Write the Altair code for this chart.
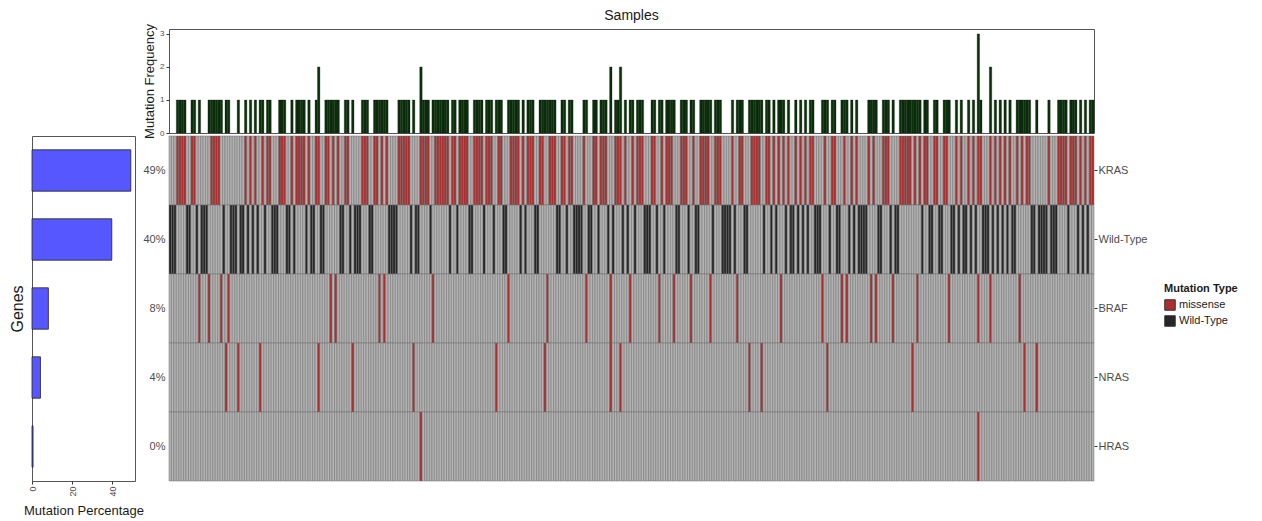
import altair as alt
import pandas as pd

# ---------------- data ----------------
N_SAMPLES = 380
GENES = ["KRAS", "Wild-Type", "BRAF", "NRAS", "HRAS"]
PCT_LABELS = ["49%", "40%", "8%", "4%", "0%"]

KRAS_SAMPLES = [
    3, 4, 5, 6, 9, 10, 17, 18, 19, 20, 31, 33, 35, 38, 40, 41, 45, 46, 47, 50,
    52, 53, 54, 55, 57, 60, 61, 64, 65, 67, 69, 72, 73, 79, 80, 81, 84, 85, 87, 89,
    94, 95, 96, 97, 98, 103, 104, 105, 106,
    109, 110, 111, 112, 113, 114, 116, 117, 119, 120, 121, 122, 125, 126, 127, 128,
    130, 131, 132, 135, 136, 140, 141, 142, 143, 145, 147, 148, 149, 152, 153, 156,
    157, 158, 161, 162, 164, 165, 170, 174, 175, 177, 178, 179, 183, 184, 185, 187,
    190, 192, 193,
    194, 198, 199, 202, 204, 205, 206, 210, 211, 212, 215, 218, 219, 220, 221, 224,
    225, 226, 231, 234, 235, 239, 240, 241, 242, 245, 246, 248, 250, 252, 254, 257,
    259, 261, 263, 264, 269, 272, 273, 277,
    280, 282, 287, 289, 293, 294, 295, 300, 301, 302, 303, 304, 306, 308, 310, 311,
    314, 315, 318, 319, 323, 325, 328, 330, 332, 333, 337, 339, 341, 343, 345, 348,
    350, 352, 353, 361, 365, 366, 367, 368, 370, 371, 372, 374, 376, 378, 379,
]
BRAF_SAMPLES = [12, 16, 21, 24, 66, 68, 86, 88, 108, 139, 155, 171, 181, 189, 201,
                207, 214, 222, 233, 251, 268, 276, 278, 288, 290, 297, 307, 320,
                332, 337, 349]
NRAS_SAMPLES = [23, 28, 37, 61, 75, 100, 134, 154, 181, 185, 238, 243, 270, 305,
                351, 356]
HRAS_SAMPLES = [103, 332]

MUTATION_TYPES = ["missense", "Wild-Type"]
FREQ_TICKS = [0, 1, 2, 3]
PCT_TICKS = [0, 20, 40]

# ---------------- styles ----------------
RED = "#ad2e2e"
DARK = "#262626"
GRAY = "#b3b3b3"
TILE_STROKE = "#6f6f6f"
GREEN = "#0c2f0c"
BLUE = "#5757ff"
FONT = "Liberation Sans"

# ---------------- derived tables ----------------
samples = list(range(N_SAMPLES))
mutated = {
    "KRAS": set(KRAS_SAMPLES),
    "BRAF": set(BRAF_SAMPLES),
    "NRAS": set(NRAS_SAMPLES),
    "HRAS": set(HRAS_SAMPLES),
}
freq = [sum(s in mutated[g] for g in mutated) for s in samples]
mutated["Wild-Type"] = {s for s in samples if freq[s] == 0}

rows = []
for g in GENES:
    for s in samples:
        if s in mutated[g]:
            status = "Wild-Type" if g == "Wild-Type" else "missense"
        else:
            status = "none"
        rows.append({"sample": s, "gene": g, "status": status})
tile_df = pd.DataFrame(rows)

freq_df = pd.DataFrame({"sample": samples, "freq": freq})
freq_df = freq_df[freq_df["freq"] > 0]

pct_df = pd.DataFrame({
    "gene": GENES,
    "pct": [100.0 * len(mutated[g]) / N_SAMPLES for g in GENES],
})
label_expr = "".join(
    f"datum.value === '{g}' ? '{lab}' : " for g, lab in zip(GENES, PCT_LABELS)) + "''"

x_scale = alt.Scale(domain=samples, paddingInner=0, paddingOuter=0)
gene_scale = alt.Scale(domain=GENES, paddingInner=0, paddingOuter=0)

PLOT_W = 925

# ---------------- panels ----------------
spacer = alt.Chart(pd.DataFrame({"v": [0]})).mark_point(opacity=0).encode(
    x=alt.X("v:Q", axis=None),
    y=alt.Y("v:Q", axis=None),
).properties(width=103, height=104, view=alt.ViewBackground(strokeOpacity=0))

top = alt.Chart(freq_df).mark_bar(
    color=GREEN, stroke="#081d08", strokeWidth=0.3
).encode(
    x=alt.X("sample:O", scale=x_scale, axis=None),
    y=alt.Y(
        "freq:Q",
        scale=alt.Scale(domain=[0, 3.15], nice=False),
        axis=alt.Axis(values=FREQ_TICKS, title="Mutation Frequency", grid=False,
                      domain=False, tickSize=3, tickColor="#333",
                      labelFontSize=8, labelColor="#4d4d4d", labelPadding=2,
                      titleFontSize=13, titleFontWeight="normal",
                      titleColor="#1a1a1a", titlePadding=3),
    ),
).properties(
    width=PLOT_W, height=104,
    title=alt.TitleParams("Samples", fontSize=14, fontWeight="normal",
                          color="#1a1a1a", offset=1),
)

left = alt.Chart(pct_df).mark_bar(
    color=BLUE, stroke="#222", strokeWidth=0.8
).encode(
    x=alt.X(
        "pct:Q",
        scale=alt.Scale(domain=[0, 51.3], nice=False),
        axis=alt.Axis(values=PCT_TICKS, labelAngle=270, title="Mutation Percentage",
                      grid=False, domain=False, tickSize=3, tickColor="#333",
                      labelFontSize=9, labelColor="#4d4d4d", labelPadding=2,
                      titleFontSize=13, titleFontWeight="normal",
                      titleColor="#1a1a1a", titlePadding=8),
    ),
    y=alt.Y(
        "gene:N",
        sort=GENES,
        scale=alt.Scale(domain=GENES, paddingInner=0.4, paddingOuter=0.2),
        axis=alt.Axis(title="Genes", labels=False, ticks=False, domain=False,
                      titleFontSize=16, titleFontWeight="normal",
                      titleColor="#1a1a1a", titlePadding=7),
    ),
).properties(width=103, height=345)

heat_tiles = alt.Chart(tile_df).mark_rect(
    stroke=TILE_STROKE, strokeWidth=0.5
).encode(
    x=alt.X("sample:O", scale=x_scale, axis=None),
    y=alt.Y("gene:N", sort=GENES, scale=gene_scale,
            axis=alt.Axis(title=None, labelExpr=label_expr, ticks=False,
                          domain=False, labelFontSize=11, labelColor="#4d4d4d",
                          labelPadding=4)),
    color=alt.Color(
        "status:N",
        scale=alt.Scale(domain=MUTATION_TYPES + ["none"], range=[RED, DARK, GRAY]),
        legend=alt.Legend(values=MUTATION_TYPES, title="Mutation Type",
                          orient="none", legendX=1132, legendY=254,
                          titleFontSize=11, titleFontWeight="bold",
                          titleColor="#1a1a1a", labelFontSize=11,
                          labelColor="#1a1a1a", symbolType="square",
                          symbolSize=110, symbolStrokeColor="#333",
                          symbolStrokeWidth=1, rowPadding=0, labelOffset=3),
    ),
)

heat_labels = alt.Chart(pct_df).mark_rect(opacity=0).encode(
    y=alt.Y("gene:N", sort=GENES, scale=gene_scale,
            axis=alt.Axis(orient="right", title=None, ticks=True, tickSize=3,
                          tickColor="#333", domain=False, labelFontSize=11,
                          labelColor="#4d4d4d", labelPadding=1)),
)

heat = alt.layer(heat_tiles, heat_labels).resolve_scale(y="independent").properties(
    width=PLOT_W, height=345, view=alt.ViewBackground(strokeOpacity=0)
)

chart = alt.concat(
    spacer, top, left, heat,
    columns=2,
    bounds="flush",
    spacing=alt.RowColnumber(row=3, column=34),
).properties(
    padding=0
).configure(
    font=FONT
).configure_view(
    stroke="#555", strokeWidth=1
)

chart.save("out.html", embed_options={"renderer": "svg", "actions": False})
